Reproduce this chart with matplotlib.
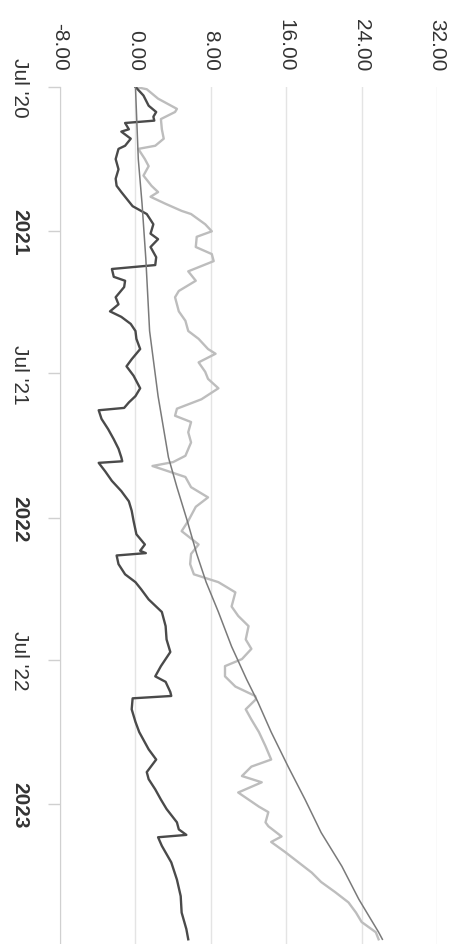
import numpy as np
import pandas as pd
import matplotlib
matplotlib.use('Agg')
import matplotlib.pyplot as plt

plt.rcParams['font.family'] = ['Liberation Sans', 'DejaVu Sans']

# days counted from the first point of the chart
start = pd.Timestamp('2020-07-01')

# dark series (days, value)
dark_days = [0, 11, 24, 32, 38, 43, 46, 54, 57, 66, 75, 79, 92, 105, 117, 126, 134, 143, 152,
             162, 175, 187, 194, 204, 217, 227, 232, 242, 247, 255, 268, 277, 286, 293, 302,
             311, 321, 334, 347, 356, 368, 384, 394, 402, 409, 412, 423, 436, 449, 461, 472,
             477, 479, 490, 502, 515, 528, 540, 553, 570, 583, 591, 594, 597, 608, 621, 631,
             640, 653, 669, 687, 704, 720, 738, 751, 758, 771, 776, 779, 793, 809, 822, 844,
             857, 873, 882, 895, 908, 920, 937, 946, 953, 956, 967, 988, 1010, 1031, 1052,
             1073, 1086]
dark_vals = [0.0, 0.85, 1.4, 2.2, 1.9, 2.0, -1.1, -0.7, -1.5, -0.5, -1.1, -1.8, -2.1, -1.8,
             -2.1, -2.0, -1.5, -0.9, -0.3, 1.2, 1.9, 1.6, 2.4, 1.6, 2.2, 2.1, -2.5, -2.3, -1.1,
             -1.2, -2.1, -1.8, -2.7, -1.5, -0.5, 0.0, 0.1, 0.5, -0.4, -0.95, -0.2, 0.5, 0.0,
             -0.7, -1.2, -3.9, -3.6, -2.9, -2.3, -1.8, -1.5, -1.4, -3.9, -3.2, -2.5, -1.5,
             -0.7, -0.4, -0.2, 0.1, 1.0, 0.5, 1.1, -2.0, -1.8, -1.1, 0.0, 0.6, 1.4, 2.8, 3.2,
             3.3, 3.7, 2.7, 2.1, 3.2, 3.7, 3.8, -0.3, -0.4, 0.0, 0.4, 1.4, 2.2, 1.2, 1.4, 2.1,
             2.7, 3.3, 4.4, 4.6, 5.4, 2.4, 2.8, 3.8, 4.4, 4.8, 4.9, 5.4, 5.6]

# light series (days, value)
light_days = [0, 3, 15, 28, 32, 41, 54, 66, 75, 79, 92, 101, 113, 126, 134, 140, 149, 158,
              162, 175, 184, 191, 204, 213, 222, 235, 247, 260, 268, 286, 298, 311, 321, 334,
              340, 351, 363, 372, 384, 398, 410, 419, 427, 440, 453, 470, 478, 483, 487, 497,
              510, 523, 535, 553, 566, 583, 595, 608, 621, 631, 636, 644, 662, 674, 687, 704,
              716, 729, 738, 751, 764, 776, 780, 793, 806, 822, 840, 857, 866, 878, 886, 899,
              908, 917, 924, 937, 942, 955, 962, 975, 988, 1001, 1013, 1026, 1039, 1052, 1064,
              1077, 1086]
light_vals = [0.0, 1.2, 2.4, 4.4, 4.2, 2.7, 2.8, 3.0, 2.1, 0.3, 1.0, 1.4, 0.85, 1.7, 2.4, 1.6,
              3.2, 4.9, 5.9, 7.4, 8.1, 6.5, 6.4, 8.1, 8.3, 5.6, 6.4, 4.6, 4.2, 4.6, 5.3, 5.6,
              6.7, 7.7, 8.5, 6.7, 7.4, 7.7, 8.8, 7.0, 4.4, 4.2, 5.9, 5.6, 5.9, 5.3, 4.0, 1.8,
              2.8, 5.3, 5.9, 7.7, 6.4, 5.6, 4.9, 6.7, 5.9, 5.8, 6.2, 8.8, 9.5, 10.6, 10.2,
              10.9, 12.0, 11.7, 12.3, 11.3, 9.5, 9.5, 10.6, 12.7, 12.8, 11.7, 12.3, 13.1, 13.8,
              14.4, 12.3, 11.3, 13.4, 10.9, 12.0, 13.1, 14.1, 13.8, 14.1, 15.5, 14.4, 15.9,
              17.3, 18.7, 19.7, 21.2, 22.6, 23.4, 24.0, 25.5, 25.8]

# smooth benchmark curve (days, value)
bench_days = [0, 92, 149, 219, 311, 394, 472, 510, 553, 595, 631, 669, 713, 755, 784, 822,
              866, 908, 950, 993, 1035, 1077, 1086]
bench_vals = [0.0, 0.3, 0.7, 1.1, 1.5, 2.4, 3.5, 4.4, 5.5, 6.5, 7.5, 8.8, 10.2, 11.8, 13.0,
              14.4, 16.2, 18.0, 19.7, 21.9, 23.7, 25.8, 26.2]

value_ticks = [-8, 0, 8, 16, 24, 32]
date_ticks = ['2020-07-01', '2021-01-01', '2021-07-01', '2022-01-01', '2022-07-01', '2023-01-01']
date_labels = ["Jul '20", '2021', "Jul '21", '2022', "Jul '22", '2023']


def to_dates(days):
    return start + pd.to_timedelta(np.array(days), unit='D')


fig = plt.figure(figsize=(4.62, 9.45), dpi=100)
ax = fig.add_axes([0.130, 0.0, 0.816, 0.907])

ax.plot(light_vals, to_dates(light_days), color='#bdbdbd', lw=1.7, zorder=3)
ax.plot(dark_vals, to_dates(dark_days), color='#4a4a4a', lw=1.7, zorder=4)
ax.plot(bench_vals, to_dates(bench_days), color='#7a7a7a', lw=1.1, zorder=5)

ax.set_xlim(-8, 32)
ax.set_ylim(start + pd.Timedelta(days=1092), start)

# value axis on top
ax.xaxis.tick_top()
ax.set_xticks(value_ticks)
ax.set_xticklabels(['%.2f' % v for v in value_ticks], rotation=270)
ax.tick_params(axis='x', length=0, pad=12, labelsize=15, labelcolor='#333333')
ax.grid(axis='x', color='#e4e4e4', lw=1)

# time axis on the left
ax.set_yticks(pd.to_datetime(date_ticks))
ax.set_yticklabels(date_labels, rotation=270, va='center')
ax.tick_params(axis='y', length=8.5, width=1, color='#d0d0d0', pad=14,
               labelsize=15, labelcolor='#333333')
for lab in ax.get_yticklabels():
    if not lab.get_text().startswith('Jul'):
        lab.set_fontweight('bold')

for s in ['top', 'right', 'bottom']:
    ax.spines[s].set_visible(False)
ax.spines['left'].set_color('#d0d0d0')

fig.savefig('out.png', dpi=100, facecolor='white')
